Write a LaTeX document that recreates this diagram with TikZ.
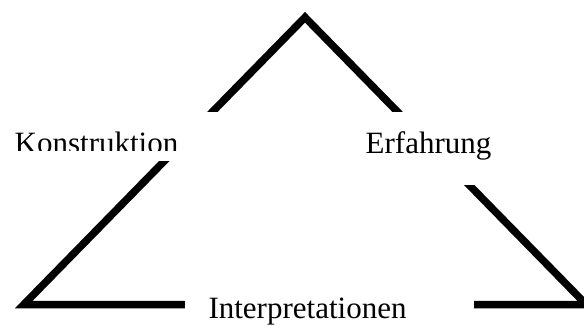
\documentclass[tikz,border=0pt]{standalone}
\usepackage{fontspec}
\setmainfont{Liberation Serif}
\tikzset{
  side/.style={line width=7.5pt, line join=miter, miter limit=10, black},
  labeltext/.style={font=\fontsize{31}{36}\selectfont, inner sep=0pt, anchor=base},
  gapbox/.style={fill=white, draw=none}
}
\begin{document}
\begin{tikzpicture}[x=1pt,y=1pt]
  \useasboundingbox (0,0) rectangle (584,-325);
  \clip (0,0) rectangle (584,-325);
  \fill[white] (0,0) rectangle (584,-325);
  % corners
  \coordinate (apex) at (305,-17.3);
  \coordinate (bl) at (23.8,-304.5);
  \coordinate (br) at (586.2,-304.5);
  \draw[side] (apex) -- (br) -- (bl) -- cycle;
  % label backgrounds
  \path[gapbox] (5,-112) rectangle (222,-161);
  \path[gapbox] (352,-112) rectangle (508,-185);
  \path[gapbox] (185,-288) rectangle (474,-325);
  % labels
  \begin{scope}
    \clip (0,-100) rectangle (230,-150);
    \node[labeltext] (konst) at (96.5,-153) {Konstruktion};
  \end{scope}
  \node[labeltext] (erf) at (428.5,-153) {Erfahrung};
  \node[labeltext] (interp) at (307.5,-318) {Interpretationen};
\end{tikzpicture}
\end{document}
